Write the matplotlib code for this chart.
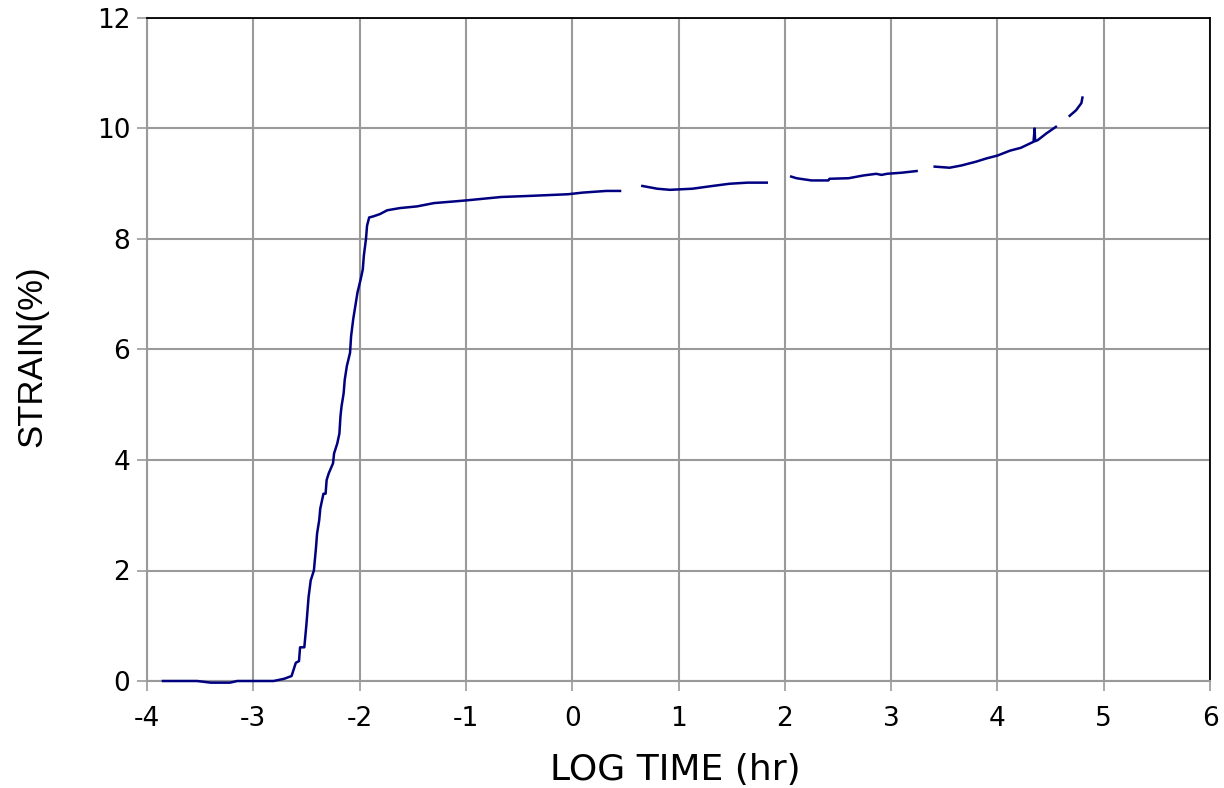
import numpy as np
import matplotlib
matplotlib.use("Agg")
import matplotlib.pyplot as plt

plt.rcParams['font.family'] = ['DejaVu Sans']
plt.rcParams['axes.unicode_minus'] = False

nan = np.nan
# log time (hr) ; NaN marks gaps in the record
log_time = [-3.85, -3.53, -3.40, -3.22, -3.15, -2.81, -2.71, -2.64, -2.60, -2.57,
            -2.56, -2.52, -2.50, -2.48, -2.46, -2.43, -2.41, -2.40, -2.38, -2.37,
            -2.34, -2.32, -2.31, -2.29, -2.25, -2.24, -2.21, -2.19, -2.18, -2.17,
            -2.15, -2.14, -2.12, -2.09, -2.08, -2.06, -2.04, -2.02, -1.99, -1.97,
            -1.96, -1.94, -1.93, -1.91, -1.87, -1.81, -1.74, -1.62, -1.46, -1.30,
            -1.11, -0.99, -0.67, -0.40, -0.04, 0.10, 0.32, 0.45,
            nan,
            0.66, 0.80, 0.92, 1.13, 1.32, 1.48, 1.65, 1.83,
            nan,
            2.06, 2.11, 2.25, 2.41, 2.42, 2.60, 2.74, 2.86, 2.91, 2.96, 3.10, 3.24,
            nan,
            3.41, 3.55, 3.66, 3.80, 3.90, 4.00, 4.12, 4.22, 4.34, 4.35, 4.355, 4.38,
            4.46, 4.55,
            nan,
            4.68, 4.74, 4.79, 4.80]
strain = [0.00, 0.00, -0.03, -0.03, 0.00, 0.00, 0.04, 0.09, 0.33, 0.36,
          0.61, 0.61, 1.03, 1.52, 1.82, 2.00, 2.42, 2.67, 2.91, 3.12,
          3.39, 3.39, 3.64, 3.76, 3.94, 4.12, 4.30, 4.48, 4.79, 4.97,
          5.21, 5.45, 5.70, 5.94, 6.24, 6.55, 6.79, 7.03, 7.27, 7.45,
          7.70, 8.00, 8.24, 8.39, 8.41, 8.45, 8.52, 8.56, 8.59, 8.65,
          8.68, 8.70, 8.76, 8.78, 8.81, 8.84, 8.87, 8.87,
          nan,
          8.96, 8.91, 8.89, 8.91, 8.96, 9.00, 9.02, 9.02,
          nan,
          9.13, 9.10, 9.06, 9.06, 9.09, 9.10, 9.15, 9.18, 9.16, 9.18, 9.20, 9.23,
          nan,
          9.31, 9.29, 9.33, 9.40, 9.46, 9.51, 9.60, 9.65, 9.76, 10.00, 9.77, 9.79,
          9.91, 10.03,
          nan,
          10.23, 10.33, 10.46, 10.56]

x_ticks = [-4, -3, -2, -1, 0, 1, 2, 3, 4, 5, 6]
y_ticks = [0, 2, 4, 6, 8, 10, 12]

fig = plt.figure(figsize=(12.24, 7.88), dpi=100)
ax = fig.add_axes([147/1224, 1-681/788, (1210-147)/1224, (681-18)/788])

grid_c = '#9a9a9a'
ax.plot(log_time, strain, color='#000080', lw=1.8, zorder=3, clip_on=False)

ax.set_xlim(-4, 6)
ax.set_ylim(0, 12)
ax.set_xticks(x_ticks)
ax.set_yticks(y_ticks)
ax.set_xticklabels([str(t) for t in x_ticks])
ax.set_yticklabels([str(t) for t in y_ticks])
ax.grid(True, color=grid_c, lw=1.5, zorder=0)
ax.set_axisbelow(True)

for s in ['left', 'bottom']:
    ax.spines[s].set_color(grid_c)
    ax.spines[s].set_linewidth(1.5)
for s in ['top', 'right']:
    ax.spines[s].set_color('black')
    ax.spines[s].set_linewidth(1.3)

ax.tick_params(axis='x', length=7, width=1.2, color=grid_c, pad=11, labelsize=19)
ax.tick_params(axis='y', length=7, width=1.2, color=grid_c, pad=5, labelsize=19)

fig.text(675/1224, 1-770/788, 'LOG TIME (hr)', ha='center', va='center', fontsize=26)
fig.text(32/1224, 1-356/788, 'STRAIN(%)', ha='center', va='center', rotation=90,
         fontsize=25, family=['Liberation Sans', 'DejaVu Sans'])

fig.savefig('out.png', dpi=100)
